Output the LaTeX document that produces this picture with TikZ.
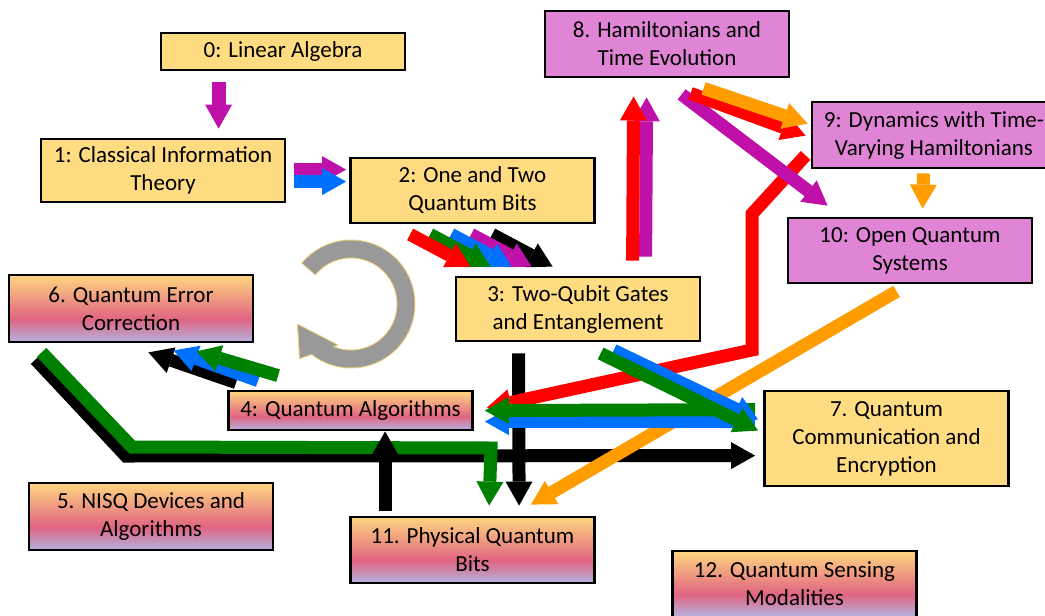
\documentclass[tikz,border=0pt]{standalone}
\usepackage{fontspec}
\setmainfont{Carlito}
\usetikzlibrary{arrows.meta}
\definecolor{byel}{HTML}{FFDC82}
\definecolor{bpink}{HTML}{E085D5}
\definecolor{gyel}{HTML}{FFD680}
\definecolor{gpink}{HTML}{E06482}
\definecolor{glav}{HTML}{B4B4E1}
\definecolor{amag}{HTML}{C010AA}
\definecolor{ablue}{HTML}{0070FF}
\definecolor{ared}{HTML}{FF0000}
\definecolor{agreen}{HTML}{008000}
\definecolor{aorange}{HTML}{FF9C00}
\definecolor{agray}{HTML}{999999}
\definecolor{aline}{HTML}{F2D27A}
\pgfdeclareverticalshading{qgrad}{100bp}{color(0bp)=(glav); color(25bp)=(glav); color(42bp)=(gpink); color(75bp)=(gyel); color(100bp)=(gyel)}
\begin{document}
\begin{tikzpicture}[x=1pt,y=-1pt,
  box/.style={draw=black, line width=2.8pt, minimum width=244pt, align=center, inner sep=2pt, font=\fontsize{23}{28}\selectfont},
  yb/.style={box, fill=byel},
  pb/.style={box, fill=bpink},
  gb/.style={box, shade, shading=qgrad},
  fat/.style={line width=13pt, -{Triangle[width=27pt,length=24pt,line width=0pt]}},
]
\useasboundingbox (0,0) rectangle (1045,616);

% nodes
\node[yb, minimum height=37pt] (n0) at (283,51.5) {0: Linear Algebra};
\node[yb, minimum height=63pt] (n1) at (163,170.5) {1: Classical Information\\Theory};
\node[yb, minimum height=65pt] (n2) at (472.5,190.5) {2: One and Two\\Quantum Bits};
\node[yb, minimum height=64pt] (n3) at (578,309) {3: Two-Qubit Gates\\and Entanglement};
\node[gb, minimum height=39pt] (n4) at (350.5,410.5) {4: Quantum Algorithms};
\node[gb, minimum height=67pt] (n5) at (151,516.5) {5. NISQ Devices and\\Algorithms};
\node[gb, minimum height=67pt] (n6) at (131,308.5) {6. Quantum Error\\Correction};
\node[yb, minimum height=95pt] (n7) at (886.5,438.5) {7. Quantum\\Communication and\\Encryption};
\node[pb, minimum height=66pt] (n8) at (667,44) {8. Hamiltonians and\\Time Evolution};
\node[pb, minimum height=66pt] (n9) at (934,135) {9: Dynamics with Time-\\Varying Hamiltonians};
\node[pb, minimum height=65pt] (n10) at (910,250.5) {10: Open Quantum\\Systems};
\node[gb, minimum height=66pt] (n11) at (472.5,550) {11. Physical Quantum\\Bits};
\node[gb, minimum height=66pt] (n12) at (794.5,584) {12. Quantum Sensing\\Modalities};

% 6 -> 7 and 6 -> 11
\draw[fat, black] ([shift={(28,16)}]n6.south west) -- (126,456) -- ([shift={(-8,66)}]n7.north west);
\draw[fat, agreen] ([shift={(34,9)}]n6.south west) -- (132,447) -- (491,448) -- ([shift={(140,-10)}]n11.north west);
% 11 -> 4
\draw[fat, black] ([shift={(36,-5)}]n11.north west) -- ([shift={(158,0)}]n4.south west);
% 3 -> 11
\draw[fat, black] ([shift={(64,11)}]n3.south west) -- ([shift={(170,-10)}]n11.north west);
% 10 -> 11
\draw[fat, aorange] ([shift={(110,7)}]n10.south west) -- ([shift={(-65,-11)}]n11.north east);
% 9 -> 4
\draw[fat, ared] ([shift={(-5,-14)}]n9.south west) -- (752,214) -- (752,350) -- ([shift={(13,18)}]n4.north east);
% 8 -> 10, 8 -> 9
\draw[fat, amag] ([shift={(138,16)}]n8.south west) -- ([shift={(41,-11)}]n10.north west);
\draw[fat, ared] ([shift={(147,15)}]n8.south west) -- ([shift={(-5,35)}]n9.north west);
\draw[fat, aorange] ([shift={(160,10)}]n8.south west) -- ([shift={(-3,23)}]n9.north west);
% 9 -> 10
\draw[fat, aorange] ([shift={(113,4)}]n9.south west) -- ([shift={(136,-8)}]n10.north west);
% 7 -> 4
\draw[fat, ablue] ([shift={(-8,32)}]n7.north west) -- ([shift={(11,32)}]n4.north east);
\draw[fat, agreen] ([shift={(-8,20)}]n7.north west) -- ([shift={(11,21)}]n4.north east);
% 3 -> 7
\draw[fat, ablue] ([shift={(159,8)}]n3.south west) -- ([shift={(-5,30)}]n7.north west);
\draw[fat, agreen] ([shift={(146,11)}]n3.south west) -- ([shift={(-5,41)}]n7.north west);
% 3 -> 8
\draw[fat, amag] ([shift={(191,-19)}]n3.north west) -- ([shift={(103,19)}]n8.south west);
\draw[fat, ared] ([shift={(178,-15)}]n3.north west) -- ([shift={(90,18)}]n8.south west);
% 2 -> 3
\draw[fat, black] ([shift={(143,10)}]n2.south west) -- ([shift={(98,-9)}]n3.north west);
\draw[fat, amag] ([shift={(122,10)}]n2.south west) -- ([shift={(77,-9)}]n3.north west);
\draw[fat, ablue] ([shift={(102,10)}]n2.south west) -- ([shift={(57,-9)}]n3.north west);
\draw[fat, agreen] ([shift={(81,10)}]n2.south west) -- ([shift={(36,-9)}]n3.north west);
\draw[fat, ared] ([shift={(61,10)}]n2.south west) -- ([shift={(16,-9)}]n3.north west);
% 0 -> 1
\draw[fat, amag, line width=14pt] ([shift={(59,11)}]n0.south west) -- ([shift={(179,-9)}]n1.north west);
% 1 -> 2
\draw[fat, amag] ([shift={(8,32)}]n1.north east) -- ([shift={(-3,13)}]n2.north west);
\draw[fat, ablue] ([shift={(8,44)}]n1.north east) -- ([shift={(-3,25)}]n2.north west);
% 4 -> 6
\draw[fat, black] ([shift={(9,-7)}]n4.north west) -- ([shift={(-106,9)}]n6.south east);
\draw[fat, ablue] ([shift={(31,-9)}]n4.north west) -- ([shift={(-81,7)}]n6.south east);
\draw[fat, agreen] ([shift={(51,-14)}]n4.north west) -- ([shift={(-58,8)}]n6.south east);

% circular arrow
\draw[aline, line width=19pt] plot[domain=219:488, samples=90] ({351+55*cos(\x)},{304+55*sin(\x)});
\filldraw[aline, line width=2pt, line join=round] (298,325) -- (300,358) -- (337,345) -- cycle;
\draw[agray, line width=17pt] plot[domain=220:488, samples=90] ({351+55*cos(\x)},{304+55*sin(\x)});
\fill[agray] (298,325) -- (300,358) -- (337,345) -- cycle;
\end{tikzpicture}
\end{document}
